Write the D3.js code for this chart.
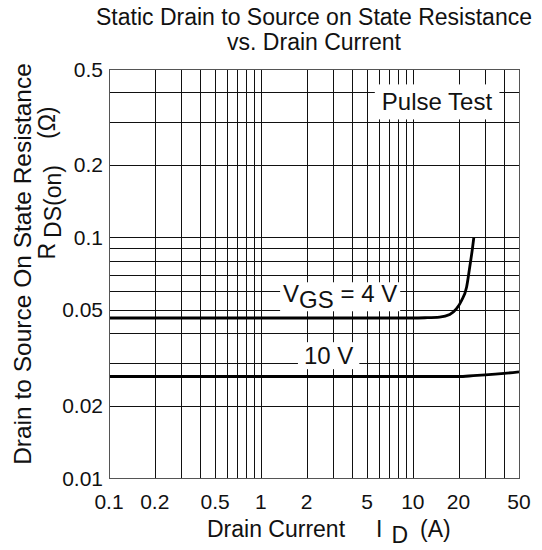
<!DOCTYPE html>
<html>
<head>
<meta charset="utf-8">
<script src="https://cdn.jsdelivr.net/npm/d3@7"></script>
<style>
  body { margin: 0; background: #fff; }
  svg { display: block; font-family: Arial, "Liberation Sans", sans-serif; }
  .grid line { stroke: #111; stroke-width: 1; shape-rendering: crispEdges; }
  .frame { fill: none; stroke: #555; stroke-width: 1.5; shape-rendering: crispEdges; }
  .curve { fill: none; stroke: #000; stroke-width: 2.8; }
  .tick-label { font-size: 21px; fill: #111; }
  .title { font-size: 23px; fill: #111; }
  .axis-title { font-size: 23px; fill: #111; }
  .note { font-size: 24px; fill: #111; }
</style>
</head>
<body>
<div id="chart"></div>
<script>
// axis ticks (labels) and grid lines
const xTickValues = [0.1, 0.2, 0.5, 1, 2, 5, 10, 20, 50];
const yTickValues = [0.01, 0.02, 0.05, 0.1, 0.2, 0.5];
const xGridValues = [0.2, 0.3, 0.4, 0.5, 0.6, 0.7, 0.8, 0.9, 1, 2, 3, 4, 5, 6, 7, 8, 9, 10, 20, 30, 40];
const yGridValues = [0.02, 0.03, 0.04, 0.05, 0.06, 0.07, 0.08, 0.09, 0.1, 0.2, 0.3, 0.4];

// R_DS(on) vs I_D
const id4V  = [0.1, 1, 10, 12, 15, 17.5, 19.4, 20.9, 22.6, 23.7, 24.6, 25.2];
const rds4V = [0.0462, 0.0462, 0.0462, 0.0463, 0.0466, 0.0478, 0.0505, 0.0545, 0.0622, 0.0753, 0.0883, 0.0995];
const id10V  = [0.1, 1, 10, 20, 25, 30, 40, 50];
const rds10V = [0.0264, 0.0264, 0.0264, 0.0264, 0.0266, 0.0268, 0.0272, 0.0276];

const width = 542;
const height = 550;
const margin = { top: 69, right: 23, bottom: 72, left: 109 };
const innerW = width - margin.left - margin.right;
const innerH = height - margin.top - margin.bottom;

const svg = d3.select('#chart')
    .append('svg')
    .attr('width', width)
    .attr('height', height);

const g = svg.append('g')
    .attr('transform', `translate(${margin.left},${margin.top})`);

const x = d3.scaleLog().domain([0.1, 50]).range([0, innerW]);
const y = d3.scaleLog().domain([0.01, 0.5]).range([innerH, 0]);

// grid
const grid = g.append('g').attr('class', 'grid');
grid.selectAll('.vx')
    .data(xGridValues)
    .join('line')
    .attr('x1', d => Math.round(x(d)) + 0.5)
    .attr('x2', d => Math.round(x(d)) + 0.5)
    .attr('y1', 0)
    .attr('y2', innerH);
grid.selectAll('.hy')
    .data(yGridValues)
    .join('line')
    .attr('class', 'hy')
    .attr('x1', 0)
    .attr('x2', innerW)
    .attr('y1', d => Math.round(y(d)) + 0.5)
    .attr('y2', d => Math.round(y(d)) + 0.5);

// annotations with white backing boxes
function note(parts, xv, yv, pad) {
    let grp = g.append('g');
    let t = grp.append('text')
        .attr('class', 'note')
        .attr('x', x(xv))
        .attr('y', y(yv));
    parts.forEach(p => {
        t.append('tspan')
            .attr('dy', p.dy || 0)
            .text(p.text);
    });
    let bb = t.node().getBBox();
    grp.insert('rect', 'text')
        .attr('x', bb.x - pad[0])
        .attr('y', bb.y - pad[1])
        .attr('width', bb.width + pad[0] * 2)
        .attr('height', bb.height + pad[1] * 2)
        .attr('fill', '#fff');
}

note([{ text: 'Pulse Test' }], 6.25, 0.3365, [7, 4]);
note([{ text: 'V' }, { text: 'GS', dy: 6 }, { text: ' = 4 V', dy: -6 }], 1.4, 0.0537, [3, -2]);
note([{ text: '10 V' }], 1.92, 0.0297, [6, 0]);

// curves
const line = d3.line()
    .x(d => x(d[0]))
    .y(d => y(d[1]))
    .curve(d3.curveMonotoneX);

g.append('path')
    .attr('class', 'curve')
    .attr('d', line(d3.zip(id4V, rds4V)));

g.append('path')
    .attr('class', 'curve')
    .attr('d', line(d3.zip(id10V, rds10V)));

// frame
g.append('rect')
    .attr('class', 'frame')
    .attr('x', 0.5)
    .attr('y', 0.5)
    .attr('width', innerW)
    .attr('height', innerH);

// tick labels
g.selectAll('.xl')
    .data(xTickValues)
    .join('text')
    .attr('class', 'tick-label')
    .attr('x', d => x(d))
    .attr('y', innerH + 31)
    .attr('text-anchor', 'middle')
    .text(d => d);

g.selectAll('.yl')
    .data(yTickValues)
    .join('text')
    .attr('class', 'tick-label')
    .attr('x', -6)
    .attr('y', d => y(d))
    .attr('dy', '0.36em')
    .attr('text-anchor', 'end')
    .text(d => d);

// titles
svg.append('text')
    .attr('class', 'title')
    .attr('x', 314)
    .attr('y', 25)
    .attr('text-anchor', 'middle')
    .text('Static Drain to Source on State Resistance');
svg.append('text')
    .attr('class', 'title')
    .attr('x', 314)
    .attr('y', 50)
    .attr('text-anchor', 'middle')
    .text('vs. Drain Current');

let xt = svg.append('text')
    .attr('class', 'axis-title')
    .attr('x', 207)
    .attr('y', 537);
xt.append('tspan').text('Drain Current');
xt.append('tspan').attr('dx', 31).text('I');
xt.append('tspan').attr('dx', 9).attr('dy', 6).text('D');
xt.append('tspan').attr('dx', 12).attr('dy', -6).text('(A)');

svg.append('text')
    .attr('class', 'axis-title')
    .attr('font-size', 24.5)
    .style('font-size', '24.5px')
    .attr('transform', 'translate(31,264) rotate(-90)')
    .attr('text-anchor', 'middle')
    .text('Drain to Source On State Resistance');

let yt = svg.append('text')
    .attr('class', 'axis-title')
    .attr('transform', 'translate(55,183) rotate(-90)')
    .attr('text-anchor', 'middle');
yt.append('tspan').text('R');
yt.append('tspan').attr('dx', 5).attr('dy', 6).text('DS(on)');
yt.append('tspan').attr('dx', 26).attr('dy', -6).text('(Ω)');
</script>
</body>
</html>
